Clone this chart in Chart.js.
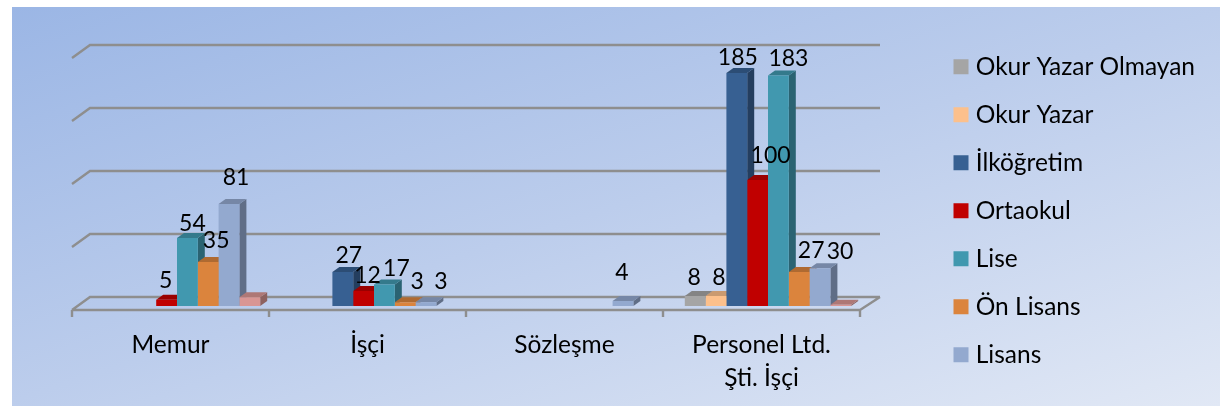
<!DOCTYPE html>
<html>
<head>
<meta charset="utf-8">
<style>
  html, body { margin: 0; background: #fff; }
  #wrap { width: 1220px; height: 408px; }
</style>
<script src="https://cdn.jsdelivr.net/npm/chart.js@4"></script>
</head>
<body>
<div id="wrap"><canvas id="chart" width="1220" height="408"></canvas></div>
<script>
const categories = ['Memur', 'İşçi', 'Sözleşme', ['Personel Ltd.', 'Şti. İşçi']];
const seriesNames = ['Okur Yazar Olmayan', 'Okur Yazar', 'İlköğretim', 'Ortaokul', 'Lise', 'Ön Lisans', 'Lisans', 'Lisansüstü'];

const okurYazarOlmayan = [null, null, null, 8];
const okurYazar = [null, null, null, 8];
const ilkogretim = [null, 27, null, 185];
const ortaokul = [5, 12, null, 100];
const lise = [54, 17, null, 183];
const onLisans = [35, 3, null, 27];
const lisans = [81, 3, 4, 30];
const lisansustu = [7, null, null, 1];

const seriesValues = [okurYazarOlmayan, okurYazar, ilkogretim, ortaokul, lise, onLisans, lisans, lisansustu];
const seriesColors = ['#a5a5a5', '#fcc08c', '#376092', '#c00000', '#4198af', '#db843d', '#93a9cf', '#d99694'];
const unlabeledSeries = 7;
const yTicks = { min: 0, max: 200, step: 50 };

// label shift from the centre of the bar top, [dx, dy], same order as seriesValues
const labelNudges = [
  [null, null, null, [-1, -18]],
  [null, null, null, [3, -18]],
  [null, [6, -16], null, [1, -15]],
  [[-1, -19], [4, -15], null, [13, -24]],
  [[5, -14], [12, -16], null, [10, -17]],
  [[8, -21], [12, -21], null, [12, -21]],
  [[7, -26], [15, -21], [-1, -28], [20, -17]],
];

const FONT = 'Lato, Carlito, sans-serif';
const GRID = '#8e8e8e';
const DEPTH_X = 7, DEPTH_Y = 5;

function shade(hex, k) {
  const n = parseInt(hex.slice(1), 16);
  const ch = [n >> 16, (n >> 8) & 255, n & 255].map(c => Math.round(c * k));
  return `rgb(${ch[0]},${ch[1]},${ch[2]})`;
}

const backdrop = {
  id: 'backdrop',
  beforeDraw(chart) {
    const { ctx, width, height } = chart;
    const g = ctx.createLinearGradient(12, 7, 242, 721);
    g.addColorStop(0, '#9bb6e5');
    g.addColorStop(0.5, '#bccdec');
    g.addColorStop(1, '#e1e8f5');
    ctx.save();
    ctx.fillStyle = g;
    ctx.fillRect(12, 7, width - 12, height - 9);
    ctx.restore();
  },
  afterLayout(chart) {
    // legend sits well right of the plot, the plot itself stops at the wall
    const legend = chart.legend;
    legend.left = 935;
    legend.right = chart.width;
    legend.width = legend.right - legend.left;
    legend.top = 31;
    legend.bottom = chart.height;
    legend.height = legend.bottom - legend.top;
  },
};

// wall lines, floor and category ticks of the 3D box, then the bar depth faces
const box3d = {
  id: 'box3d',
  beforeDatasetsDraw(chart) {
    const { ctx, chartArea, scales } = chart;
    const left = chartArea.left - 6.5;
    const right = chartArea.right - 6.5;
    const backLeft = left + 18, backRight = right + 20;
    const base = scales.y.getPixelForValue(0);
    ctx.save();
    ctx.strokeStyle = GRID;
    ctx.lineWidth = 2.4;
    ctx.beginPath();
    scales.y.ticks.forEach(t => {
      const y = scales.y.getPixelForValue(t.value);
      ctx.moveTo(left, y + 4);
      ctx.lineTo(backLeft, y - 9);
      ctx.lineTo(backRight, y - 9);
    });
    ctx.moveTo(backRight, base - 9);
    ctx.lineTo(right, base + 4);
    ctx.moveTo(left, base + 4);
    ctx.lineTo(right, base + 4);
    const step = (right - left) / categories.length;
    for (let i = 0; i <= categories.length; i++) {
      ctx.moveTo(left + step * i, base + 4);
      ctx.lineTo(left + step * i, base + 11);
    }
    ctx.stroke();

    // fronts are drawn afterwards by the library and cover the next bar's depth
    seriesValues.forEach((values, s) => {
      const color = seriesColors[s];
      chart.getDatasetMeta(s).data.forEach((bar, i) => {
        if (values[i] == null) return;
        const p = bar.getProps(['x', 'y', 'base', 'width'], true);
        const l = p.x - p.width / 2, r = p.x + p.width / 2;
        ctx.fillStyle = shade(color, 0.65);
        ctx.beginPath();
        ctx.moveTo(r, p.y);
        ctx.lineTo(r + DEPTH_X, p.y - DEPTH_Y);
        ctx.lineTo(r + DEPTH_X, p.base - DEPTH_Y);
        ctx.lineTo(r, p.base);
        ctx.closePath();
        ctx.fill();
        ctx.fillStyle = shade(color, 0.8);
        ctx.beginPath();
        ctx.moveTo(l, p.y);
        ctx.lineTo(l + DEPTH_X, p.y - DEPTH_Y);
        ctx.lineTo(r + DEPTH_X, p.y - DEPTH_Y);
        ctx.lineTo(r, p.y);
        ctx.closePath();
        ctx.fill();
      });
    });
    ctx.restore();
  },
};

const barLabels = {
  id: 'barLabels',
  afterDatasetsDraw(chart) {
    const { ctx } = chart;
    ctx.save();
    ctx.font = `23px ${FONT}`;
    ctx.fillStyle = '#000';
    ctx.textAlign = 'center';
    ctx.textBaseline = 'middle';
    chart.data.datasets.forEach((ds, s) => {
      if (s === unlabeledSeries) return;
      chart.getDatasetMeta(s).data.forEach((bar, i) => {
        const v = seriesValues[s][i];
        if (v == null) return;
        const [dx, dy] = labelNudges[s][i];
        const p = bar.getProps(['x', 'y'], true);
        ctx.fillText(String(v), p.x + dx, p.y + dy);
      });
    });
    ctx.restore();
  },
};

const datasets = seriesNames.map((name, i) => ({
  label: name,
  data: seriesValues[i],
  backgroundColor: seriesColors[i],
  barPercentage: 1,
  categoryPercentage: 166.4 / 197,
}));

new Chart(document.getElementById('chart'), {
  type: 'bar',
  data: { labels: categories, datasets },
  plugins: [backdrop, box3d, barLabels],
  options: {
    responsive: false,
    animation: false,
    layout: { padding: { left: 78.5, top: 54, right: 60, bottom: 0 } },
    scales: {
      x: {
        grid: { display: false },
        border: { display: false },
        afterFit(scale) { scale.height = 102; },
        ticks: {
          color: '#000',
          padding: 14,
          labelOffset: -6.5,
          maxRotation: 0,
          autoSkip: false,
          font: { family: FONT, size: 24.5, lineHeight: 1.36 },
        },
      },
      y: {
        display: false,
        min: yTicks.min,
        max: yTicks.max,
        ticks: { stepSize: yTicks.step },
      },
    },
    plugins: {
      tooltip: { enabled: false },
      legend: {
        position: 'right',
        align: 'start',
        maxWidth: 293.5,
        labels: {
          color: '#000',
          usePointStyle: true,
          pointStyle: 'rect',
          boxWidth: 5,
          boxHeight: 15,
          padding: 23.5,
          font: { family: FONT, size: 24.5 },
          filter: item => item.datasetIndex !== unlabeledSeries,
        },
      },
    },
  },
});
</script>
</body>
</html>
